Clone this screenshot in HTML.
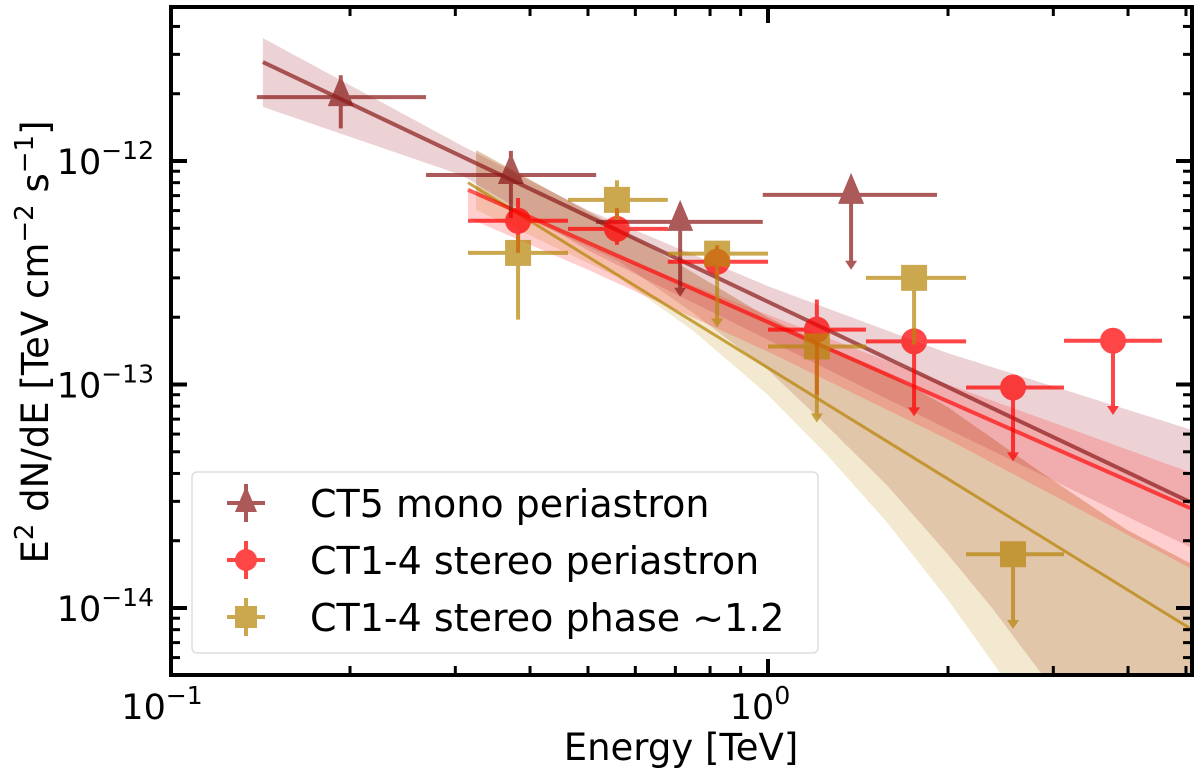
<!DOCTYPE html>
<html><head><meta charset="utf-8"><style>
html,body{margin:0;background:#fff;overflow:hidden;width:1200px;height:774px}
svg{display:block;font-family:"DejaVu Sans","Liberation Sans",sans-serif}
</style></head><body>
<svg id="chart" width="1200" height="774" viewBox="0 0 1200 774" xmlns="http://www.w3.org/2000/svg">
<defs><clipPath id="pc"><rect x="171" y="7" width="1021" height="668"/></clipPath></defs>
<g id="bands" clip-path="url(#pc)"></g>
<g id="lines" clip-path="url(#pc)"></g>
<g id="points"></g>
<g id="axes"></g>
<g id="legend"></g>
<text x="681" y="760" font-size="37" text-anchor="middle">Energy [TeV]</text>
<text transform="translate(48,342) rotate(-90)" font-size="37" text-anchor="middle">E<tspan dy="-15" font-size="26">2</tspan><tspan dy="15"> dN/dE [TeV cm</tspan><tspan dy="-15" font-size="26">−2</tspan><tspan dy="15"> s</tspan><tspan dy="-15" font-size="26">−1</tspan><tspan dy="15">]</tspan></text>
</svg>
<script>
// ---- data ----
const ct5E   = [0.193, 0.3716, 0.713, 1.377];
const ct5Lo  = [0.1397, 0.268, 0.516, 0.98];
const ct5Hi  = [0.268, 0.516, 0.98, 1.917];
const ct5F   = [1.93e-12, 8.66e-13, 5.34e-13, 7.05e-13];
const ct5Fhi = [2.42e-12, 1.11e-12, null, null];
const ct5Flo = [1.40e-12, 5.56e-13, 2.47e-13, 3.26e-13];
const ct5UL  = [false, false, true, true];

const redE   = [0.382, 0.559, 0.822, 1.207, 1.755, 2.569, 3.775];
const redLo  = [0.315, 0.463, 0.680, 1.0, 1.458, 2.144, 3.126];
const redHi  = [0.463, 0.680, 1.0, 1.458, 2.144, 3.126, 4.56];
const redF   = [5.4e-13, 4.97e-13, 3.54e-13, 1.76e-13, 1.56e-13, 9.7e-14, 1.57e-13];
const redFhi = [6.83e-13, 6.17e-13, 4.2e-13, 2.40e-13, null, null, null];
const redFlo = [3.88e-13, 4.22e-13, 3.0e-13, 9.0e-14, 7.2e-14, 4.53e-14, 7.3e-14];
const redUL  = [false, false, false, false, true, true, true];

const goldE   = [0.382, 0.559, 0.822, 1.207, 1.755, 2.569];
const goldLo  = [0.315, 0.463, 0.680, 1.0, 1.458, 2.144];
const goldHi  = [0.463, 0.680, 1.0, 1.458, 2.144, 3.126];
const goldF   = [3.88e-13, 6.70e-13, 3.85e-13, 1.48e-13, 3.0e-13, 1.74e-14];
const goldFhi = [4.67e-13, 8.2e-13, null, null, 3.0e-13, null];
const goldFlo = [1.95e-13, 5.45e-13, 1.80e-13, 6.76e-14, 1.51e-13, 8.05e-15];
const goldUL  = [false, false, true, true, false, true];

// fit lines: [E, E^2dN/dE]
const ct5LineE = [0.143, 5.08];    const ct5LineF = [2.77e-12, 2.98e-14];
const redLineE = [0.315, 5.08];    const redLineF = [7.43e-13, 2.80e-14];
const goldLineE = [0.315, 5.08];   const goldLineF = [8.0e-13, 8.1e-15];

// bands (log10 flux)
const ct5BandE = [0.143, 0.307, 0.5, 1, 2, 5.08];
const ct5BandUp = [-11.45, -11.93, -12.22, -12.56, -12.86, -13.201];
const ct5BandDn = [-11.758, -12.063, -12.40, -12.80, -13.20, -13.728];
const redBandE = [0.315, 0.5, 1, 2, 5.08];
const redBandUp = [-12.138, -12.375, -12.688, -13.0, -13.393];
const redBandDn = [-12.254, -12.487, -12.853, -13.246, -13.821];
const creamBandE = [0.325, 0.562, 0.75, 1, 1.26, 1.585, 1.995, 2.37, 2.818, 3.98, 5.08];
const creamBandUp = [-11.951, -12.30, -12.50, -12.70, -12.83, -12.95, -13.10, -13.24, -13.38, -13.65, -13.80];
const creamBandDn = [-12.219, -12.521, -12.76, -13.047, -13.32, -13.620, -13.960, -14.24, -14.532, -15.181, -15.9];
const brownBandE = [0.325, 0.562, 0.75, 1, 1.26, 1.585, 1.995, 2.37, 2.851, 3.98, 5.08];
const brownBandUp = [-11.951, -12.30, -12.50, -12.70, -12.83, -12.95, -13.10, -13.24, -13.39, -13.65, -13.80];
const brownBandDn = [-12.152, -12.447, -12.68, -12.935, -13.19, -13.454, -13.758, -14.00, -14.286, -14.841, -15.298];

// ticks
const xMajor = [0.1, 1];
const xMajorLbl = ["−1", "0"];
const yMajor = [1e-12, 1e-13, 1e-14];
const yMajorLbl = ["−12", "−13", "−14"];

// ---- axes functions ----
const L=171, R=1192, T=7, B=675;
const X0=768, XD=598, Y0=161, YD=223.5;
function xs(e){return X0+Math.log10(e)*XD;}
function ys(f){return Y0-(Math.log10(f)+12)*YD;}
function ysl(l){return Y0-(l+12)*YD;}
const NS="http://www.w3.org/2000/svg";
function mk(tag,attrs,parent){const el=document.createElementNS(NS,tag);for(const k in attrs)el.setAttribute(k,attrs[k]);parent.appendChild(el);return el;}

const gB=document.getElementById('bands');
function dense(E,V){
  const out=[];
  for(let i=0;i<E.length-1;i++){
    const a=Math.log10(E[i]),b=Math.log10(E[i+1]);
    for(let k=0;k<20;k++){const t=k/20;out.push([a+(b-a)*t,V[i]+(V[i+1]-V[i])*t]);}
  }
  out.push([Math.log10(E[E.length-1]),V[V.length-1]]);
  return out;
}
function band(E,up,dn,fill,name){
  const U=dense(E,up),D=dense(E,dn).reverse();
  const p=U.concat(D).map(([le,l])=>(X0+le*XD).toFixed(1)+","+Math.min(B+2,ysl(l)).toFixed(1));
  const el=mk('polygon',{points:p.join(' '),fill:fill},gB);
  
  
}
band(creamBandE,creamBandUp,creamBandDn,'rgba(225,200,140,0.4)','phase-band-outer');
band(brownBandE,brownBandUp,brownBandDn,'rgba(190,120,80,0.3)','phase-band');
band(ct5BandE,ct5BandUp,ct5BandDn,'rgba(170,50,60,0.22)','ct5-band');
band(redBandE,redBandUp,redBandDn,'rgba(255,60,60,0.25)','stereo-band');

const gL=document.getElementById('lines');
function fline(E,F,col,w,name){
  const el=mk('line',{x1:xs(E[0]),y1:ys(F[0]),x2:xs(E[1]),y2:ys(F[1]),stroke:col,'stroke-width':w},gL);
  
  
}
fline(goldLineE,goldLineF,'rgba(184,134,11,0.75)',3,'phase-fit-line');
fline(ct5LineE,ct5LineF,'rgba(139,26,26,0.7)',4,'ct5-fit-line');
fline(redLineE,redLineF,'rgba(255,0,0,0.65)',4,'stereo-fit-line');

const gP=document.getElementById('points');
function series(E,lo,hi,F,fhi,flo,ul,col,shape,name){
  E.forEach((e,i)=>{
    const g=mk('g',{opacity:0.72},gP);
    
    
    const x=xs(e),y=ys(F[i]);
    mk('line',{x1:xs(lo[i]),x2:xs(hi[i]),y1:y,y2:y,stroke:col,'stroke-width':4},g);
    if(ul[i]){
      const y2=ys(flo[i]);
      mk('line',{x1:x,x2:x,y1:y,y2:y2-6,stroke:col,'stroke-width':4},g);
      mk('polygon',{points:`${x-6},${y2-9} ${x+6},${y2-9} ${x},${y2}`,fill:col},g);
    }else{
      mk('line',{x1:x,x2:x,y1:ys(fhi[i]),y2:ys(flo[i]),stroke:col,'stroke-width':4},g);
    }
    if(shape==='tri')mk('polygon',{points:`${x},${y-22} ${x-13},${y+9} ${x+13},${y+9}`,fill:col},g);
    else if(shape==='circ')mk('circle',{cx:x,cy:y,r:13,fill:col},g);
    else mk('rect',{x:x-13,y:y-13,width:26,height:26,fill:col},g);
  });
}
series(ct5E,ct5Lo,ct5Hi,ct5F,ct5Fhi,ct5Flo,ct5UL,'#8b1a1a','tri','ct5');
series(redE,redLo,redHi,redF,redFhi,redFlo,redUL,'#ff0000','circ','stereo');
series(goldE,goldLo,goldHi,goldF,goldFhi,goldFlo,goldUL,'#b8860b','sq','phase');

// axes
const gA=document.getElementById('axes');
const fr=mk('rect',{x:L,y:T,width:R-L,height:B-T,fill:'none',stroke:'#000','stroke-width':4},gA);


function tick(x1,y1,x2,y2,w){mk('line',{x1,y1,x2,y2,stroke:'#000','stroke-width':w},gA);}
for(let d=-1;d<=0;d++){for(let m=1;m<10;m++){const e=m*Math.pow(10,d);const x=xs(e);if(x<L||x>R)continue;const len=m===1?16:9,w=m===1?4:3;tick(x,B,x,B-len,w);tick(x,T,x,T+len,w);}}
for(let d=-15;d<=-12;d++){for(let m=1;m<10;m++){const f=m*Math.pow(10,d);const y=ys(f);if(y<T||y>B)continue;const len=m===1?16:9,w=m===1?4:3;tick(L,y,L+len,y,w);tick(R,y,R-len,y,w);}}
xMajor.forEach((v,i)=>{
  const t=mk('text',{x:xs(v)-8,y:719,'font-size':35,'text-anchor':'middle'},gA);
  
  
  t.innerHTML='10<tspan dy="-15" font-size="25">'+xMajorLbl[i]+'</tspan>';
});
yMajor.forEach((v,i)=>{
  const t=mk('text',{x:154,y:ys(v)+13,'font-size':35,'text-anchor':'end'},gA);
  
  
  t.innerHTML='10<tspan dy="-15" font-size="25">'+yMajorLbl[i]+'</tspan>';
});

// legend
const gG=document.getElementById('legend');
const lb=mk('rect',{x:192,y:472,width:626,height:181,rx:5,fill:'rgba(255,255,255,0.85)',stroke:'#ddd','stroke-width':1.5},gG);


const legLabels=['CT5 mono periastron','CT1-4 stereo periastron','CT1-4 stereo phase ~1.2'];
const legCols=['#8b1a1a','#ff0000','#b8860b'];
const legShapes=['tri','circ','sq'];
const legY=[503,560,617];
legLabels.forEach((s,i)=>{
  const g=mk('g',{},gG);
  
  
  const m=mk('g',{opacity:0.72},g);
  const x=246,y=legY[i],c=legCols[i];
  mk('line',{x1:x-19,x2:x+19,y1:y,y2:y,stroke:c,'stroke-width':4},m);
  mk('line',{x1:x,x2:x,y1:y-19,y2:y+19,stroke:c,'stroke-width':4},m);
  if(legShapes[i]==='tri')mk('polygon',{points:`${x},${y-17} ${x-11},${y+9} ${x+11},${y+9}`,fill:c},m);
  else if(legShapes[i]==='circ')mk('circle',{cx:x,cy:y,r:11,fill:c},m);
  else mk('rect',{x:x-11,y:y-11,width:22,height:22,fill:c},m);
  const t=mk('text',{x:310,y:y+14,'font-size':38},g);
  t.textContent=s;
});
</script>
</body></html>
